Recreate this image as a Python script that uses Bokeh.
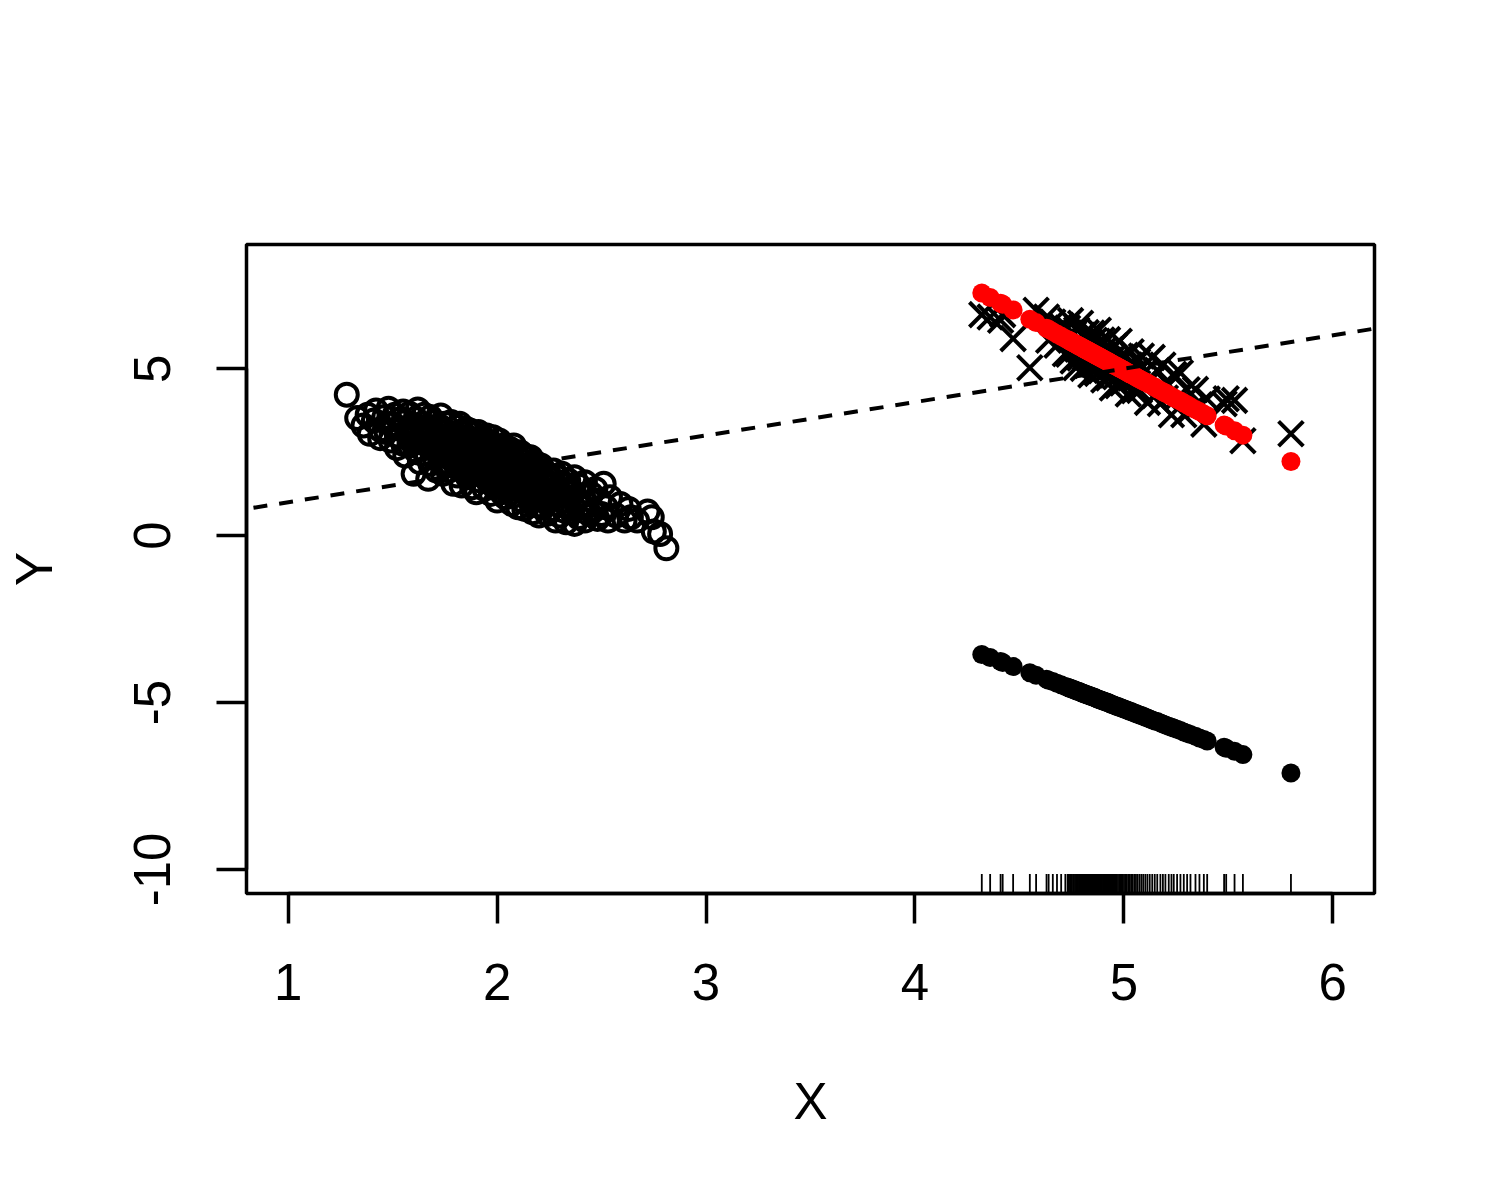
import math
from bokeh.plotting import figure
from bokeh.models import Range1d, FixedTicker, Slope
from bokeh.embed import file_html
from bokeh.resources import INLINE

# ---------------- data ----------------
x_ticks = [1, 2, 3, 4, 5, 6]
y_ticks = [-10, -5, 0, 5]
y_tick_labels = {-10: "-10", -5: "-5", 0: "0", 5: "5"}
x_lim = (0.8, 6.2)
y_lim = (-10.72, 8.72)

# group 1 (open circles)
g1_x = [
    1.28, 1.33,
    1.36, 1.38, 1.39, 1.41, 1.42, 1.44, 1.44,
    1.46, 1.47, 1.48, 1.49, 1.50, 1.51, 1.52, 1.52, 1.53, 1.54, 1.55, 1.55,
    1.56, 1.56, 1.57, 1.58, 1.58, 1.59, 1.60, 1.60, 1.61, 1.61, 1.62, 1.62, 1.63, 1.63, 1.64, 1.64, 1.65, 1.65,
    1.66, 1.66, 1.67, 1.67, 1.68, 1.68, 1.69, 1.69, 1.70, 1.70, 1.71, 1.71, 1.72, 1.72, 1.73, 1.73, 1.73, 1.74, 1.74, 1.74, 1.75, 1.75, 1.75, 1.72,
    1.76, 1.76, 1.77, 1.77, 1.78, 1.78, 1.79, 1.79, 1.80, 1.80, 1.80, 1.81, 1.81, 1.82, 1.82, 1.82, 1.83, 1.83, 1.83, 1.84, 1.84, 1.84, 1.85, 1.85, 1.85, 1.78, 1.80, 1.82,
    1.86, 1.86, 1.86, 1.87, 1.87, 1.87, 1.88, 1.88, 1.88, 1.89, 1.89, 1.89, 1.90, 1.90, 1.90, 1.91, 1.91, 1.91, 1.92, 1.92, 1.92, 1.93, 1.93, 1.93, 1.94, 1.94, 1.94, 1.95, 1.95, 1.95, 1.90, 1.88,
    1.96, 1.96, 1.96, 1.97, 1.97, 1.97, 1.98, 1.98, 1.98, 1.99, 1.99, 1.99, 2.00, 2.00, 2.00, 2.01, 2.01, 2.01, 2.02, 2.02, 2.02, 2.03, 2.03, 2.03, 2.04, 2.04, 2.04, 2.05, 2.05, 2.05, 2.00, 1.98,
    2.06, 2.06, 2.06, 2.07, 2.07, 2.07, 2.08, 2.08, 2.08, 2.09, 2.09, 2.09, 2.10, 2.10, 2.10, 2.11, 2.11, 2.11, 2.12, 2.12, 2.12, 2.13, 2.13, 2.13, 2.14, 2.14, 2.14, 2.15, 2.15, 2.15,
    2.16, 2.16, 2.16, 2.17, 2.17, 2.17, 2.18, 2.18, 2.18, 2.19, 2.19, 2.20, 2.20, 2.20, 2.21, 2.21, 2.21, 2.22, 2.22, 2.23, 2.23, 2.23, 2.24, 2.24, 2.25, 2.25,
    2.26, 2.26, 2.27, 2.27, 2.28, 2.28, 2.29, 2.29, 2.30, 2.30, 2.31, 2.31, 2.32, 2.32, 2.33, 2.33, 2.34, 2.34, 2.35, 2.35,
    2.36, 2.36, 2.37, 2.37, 2.38, 2.39, 2.39, 2.40, 2.41, 2.42, 2.42, 2.43, 2.44, 2.45,
    2.46, 2.47, 2.48, 2.49, 2.50, 2.51, 2.52, 2.53, 2.54,
    2.57, 2.59, 2.61, 2.63, 2.64,
    2.67, 2.72, 2.74, 2.75,
    2.78, 2.81,
    1.58, 1.68, 1.77, 1.84, 1.91, 1.97, 2.03, 2.09, 2.16, 2.22, 2.28,
    1.62, 1.72, 1.81, 1.89, 1.95, 2.01, 2.07, 2.13, 2.19, 2.26, 2.33,
]
g1_y = [
    4.22, 3.52,
    3.30, 3.62, 3.05, 3.45, 3.75, 3.18, 2.92,
    3.55, 3.10, 3.80, 2.85, 3.35, 3.62, 3.00, 2.62, 3.48, 3.20, 3.72, 2.75,
    3.40, 2.40, 3.05, 3.65, 2.70, 3.25, 1.85, 2.95, 3.50, 2.55, 3.15, 3.78, 2.80, 2.20, 3.35, 2.60, 3.00, 3.62,
    2.45, 3.25, 1.70, 2.90, 3.55, 2.15, 2.70, 3.10, 2.35, 3.40, 1.95, 2.85, 3.00, 2.55, 3.60, 2.20, 2.75, 3.20, 1.85, 2.45, 3.35, 2.95, 2.10, 3.30,
    2.60, 3.10, 1.95, 2.80, 3.40, 2.30, 2.65, 1.55, 3.00, 2.15, 2.50, 3.25, 1.80, 2.85, 2.40, 3.35, 2.05, 2.70, 1.50, 3.05, 2.25, 2.55, 1.90, 2.95, 3.20, 2.10, 2.85, 2.60,
    2.40, 1.75, 2.90, 3.15, 2.20, 2.60, 1.45, 2.00, 2.75, 3.05, 2.35, 1.85, 2.55, 1.30, 2.85, 2.10, 3.10, 2.45, 1.65, 2.70, 2.25, 2.95, 1.95, 2.50, 1.40, 2.80, 2.15, 2.60, 1.80, 3.00, 2.05, 2.50,
    2.35, 1.60, 2.80, 2.05, 1.25, 2.55, 2.95, 1.85, 2.20, 1.45, 2.65, 2.00, 1.05, 2.40, 1.75, 2.85, 2.10, 1.55, 2.50, 1.30, 1.95, 2.70, 1.70, 2.25, 1.15, 2.00, 2.55, 1.50, 2.35, 1.85, 2.20, 1.65,
    2.10, 1.40, 2.60, 1.75, 0.95, 2.30, 1.20, 2.00, 2.70, 1.55, 1.90, 2.40, 0.85, 1.65, 2.15, 1.35, 2.50, 1.80, 1.05, 2.25, 1.60, 1.95, 0.80, 2.40, 1.45, 1.75, 2.05, 1.15, 2.30, 1.55,
    1.85, 1.00, 2.35, 1.45, 0.70, 2.05, 1.25, 1.70, 2.20, 0.90, 1.55, 1.95, 1.10, 0.60, 1.40, 2.10, 1.75, 0.85, 1.30, 1.90, 1.05, 1.60, 0.65, 1.50, 1.20, 1.80,
    1.55, 0.80, 1.95, 1.15, 0.45, 1.40, 1.75, 0.95, 1.25, 0.60, 1.85, 1.05, 1.50, 0.75, 1.30, 0.40, 1.65, 0.90, 1.15, 1.40,
    0.70, 1.30, 1.75, 0.35, 1.05, 1.50, 0.55, 0.85, 1.20, 0.45, 1.60, 0.95, 0.65, 1.25,
    0.75, 1.40, 0.50, 1.05, 0.65, 1.55, 0.85, 0.45, 1.15,
    0.60, 0.95, 0.45, 0.80, 0.55,
    0.45, 0.72, 0.55, 0.12,
    0.05, -0.38,
    2.88, 2.62, 2.38, 2.22, 2.05, 1.90, 1.78, 1.62, 1.48, 1.35, 1.22,
    3.12, 2.98, 2.76, 2.57, 2.42, 2.28, 2.12, 1.98, 1.83, 1.68, 1.52,
]

# group 2: x (also the rug), observed (crosses), red fitted, black fitted
g2_x = [
    4.32, 4.36, 4.41, 4.42, 4.47, 4.55, 4.58,
    4.63, 4.64, 4.66, 4.68, 4.70, 4.72,
    4.731, 4.736, 4.742, 4.745, 4.751, 4.757, 4.760, 4.766, 4.771, 4.774,
    4.779, 4.785, 4.789, 4.793, 4.798, 4.803, 4.806, 4.811, 4.816, 4.820,
    4.825, 4.829, 4.834, 4.838, 4.842, 4.847, 4.851, 4.856, 4.860, 4.864,
    4.869, 4.873, 4.878, 4.882, 4.887, 4.891, 4.895, 4.900, 4.904, 4.909,
    4.913, 4.918, 4.922, 4.927, 4.931, 4.936, 4.940, 4.945, 4.950, 4.955,
    4.961, 4.966, 4.972, 4.978, 4.983, 4.989, 4.995, 5.001, 5.008, 5.014,
    5.021, 5.028, 5.035, 5.042, 5.050, 5.058, 5.066, 5.075, 5.084, 5.093,
    5.103, 5.113, 5.124, 5.136, 5.148,
    5.160, 5.175, 5.187, 5.199, 5.215, 5.228, 5.239, 5.255, 5.271, 5.287, 5.303, 5.319, 5.343, 5.362, 5.383, 5.399,
    5.48, 5.49, 5.53, 5.57, 5.80,
]
g2_cross = [
    6.62, 6.55, 6.45, 6.62, 5.90, 5.03, 6.75,
    6.55, 5.85, 6.40, 5.70, 6.30, 5.45,
    6.22, 5.43, 5.93, 6.44, 5.62, 5.23, 6.05, 5.80, 5.03, 6.17,
    5.58, 5.88, 5.32, 6.36, 5.59, 6.00, 5.01, 5.74, 5.33, 6.08,
    5.10, 5.61, 5.82, 5.35, 4.81, 6.07, 5.48, 5.14, 5.85, 5.33,
    5.65, 4.86, 6.15, 5.15, 5.46, 4.94, 5.86, 5.27, 4.66, 5.59,
    5.43, 4.95, 5.87, 4.72, 5.25, 5.57, 5.05, 4.42, 5.34, 5.68,
    4.76, 5.21, 4.49, 5.82, 4.85, 5.35, 4.57, 4.99, 5.40, 4.68,
    4.24, 5.11, 5.51, 4.75, 4.34, 4.91, 5.22, 4.35, 5.38, 4.49,
    4.92, 3.99, 4.63, 5.34, 4.19,
    4.95, 3.95, 5.11, 4.12, 4.52, 3.62, 4.83, 4.13, 4.88, 3.62, 4.37, 3.76, 4.38, 3.92, 3.34, 4.09,
    3.95, 4.10, 4.05, 2.84, 3.05,
]
g2_red = [
    7.27, 7.13, 6.96, 6.93, 6.76, 6.48, 6.38,
    6.21, 6.18, 6.11, 6.04, 5.97, 5.90,
    5.87, 5.85, 5.83, 5.82, 5.80, 5.78, 5.77, 5.75, 5.73, 5.72,
    5.70, 5.68, 5.67, 5.66, 5.64, 5.62, 5.61, 5.59, 5.58, 5.56,
    5.55, 5.53, 5.52, 5.50, 5.49, 5.47, 5.46, 5.44, 5.43, 5.41,
    5.40, 5.38, 5.37, 5.35, 5.34, 5.32, 5.31, 5.29, 5.28, 5.26,
    5.25, 5.23, 5.22, 5.20, 5.19, 5.17, 5.15, 5.14, 5.12, 5.10,
    5.08, 5.07, 5.05, 5.02, 5.01, 4.99, 4.97, 4.95, 4.92, 4.90,
    4.88, 4.85, 4.83, 4.81, 4.78, 4.75, 4.72, 4.69, 4.66, 4.63,
    4.60, 4.57, 4.53, 4.49, 4.45,
    4.40, 4.35, 4.31, 4.27, 4.22, 4.17, 4.13, 4.08, 4.03, 3.97, 3.92, 3.86, 3.78, 3.72, 3.64, 3.59,
    3.31, 3.28, 3.14, 3.01, 2.22,
]
g2_black = [
    -3.56, -3.65, -3.77, -3.80, -3.92, -4.11, -4.18,
    -4.30, -4.33, -4.37, -4.42, -4.47, -4.52,
    -4.54, -4.56, -4.57, -4.58, -4.59, -4.61, -4.61, -4.63, -4.64, -4.65,
    -4.66, -4.67, -4.68, -4.69, -4.71, -4.72, -4.72, -4.74, -4.75, -4.76,
    -4.77, -4.78, -4.79, -4.80, -4.81, -4.82, -4.83, -4.84, -4.85, -4.86,
    -4.88, -4.89, -4.90, -4.91, -4.92, -4.93, -4.94, -4.95, -4.96, -4.97,
    -4.98, -4.99, -5.00, -5.01, -5.02, -5.04, -5.05, -5.06, -5.07, -5.08,
    -5.10, -5.11, -5.12, -5.14, -5.15, -5.16, -5.18, -5.19, -5.21, -5.22,
    -5.24, -5.26, -5.27, -5.29, -5.31, -5.33, -5.35, -5.37, -5.39, -5.41,
    -5.44, -5.46, -5.49, -5.52, -5.55,
    -5.57, -5.61, -5.64, -5.67, -5.71, -5.74, -5.76, -5.80, -5.84, -5.88, -5.92, -5.96, -6.01, -6.06, -6.11, -6.15,
    -6.34, -6.37, -6.46, -6.56, -7.11,
]

# reference line (dashed)
ref_intercept = 0.0
ref_slope = 1.0

# ---------------- figure ----------------
FONT = "Liberation Sans"
LW = 3.5      # frame, axes, ticks
MLW = 4.0     # marker and dashed line strokes

p = figure(
    frame_width=1128, frame_height=649,
    min_border_left=246, min_border_right=118,
    min_border_top=244, min_border_bottom=299,
    x_range=Range1d(*x_lim), y_range=Range1d(*y_lim),
    output_backend="svg", toolbar_location=None,
    background_fill_color="white", border_fill_color="white",
)
p.xgrid.visible = False
p.ygrid.visible = False
p.outline_line_color = "black"
p.outline_line_width = LW

for ax, ticks in ((p.xaxis[0], x_ticks), (p.yaxis[0], y_ticks)):
    ax.ticker = FixedTicker(ticks=ticks)
    ax.bounds = (min(ticks), max(ticks))
    ax.axis_line_color = "black"
    ax.axis_line_width = LW
    ax.major_tick_out = 30
    ax.major_tick_in = 0
    ax.major_tick_line_width = LW
    ax.minor_tick_line_color = None
    ax.major_label_text_font = FONT
    ax.major_label_text_font_size = "51px"
    ax.major_label_text_color = "black"
    ax.axis_label_text_font = FONT
    ax.axis_label_text_font_size = "51px"
    ax.axis_label_text_font_style = "normal"
    ax.axis_label_text_color = "black"

p.yaxis.major_label_overrides = y_tick_labels
p.xaxis.axis_label = "X"
p.yaxis.axis_label = "Y"
p.xaxis.major_label_standoff = 40
p.xaxis.axis_label_standoff = 70
p.yaxis.major_label_orientation = "vertical"
p.yaxis.major_label_standoff = 46
p.yaxis.axis_label_standoff = 69

# group 1 open circles
p.scatter(g1_x, g1_y, marker="circle", size=22, fill_color=None,
          line_color="black", line_width=MLW)
# group 2 crosses
p.scatter(g2_x, g2_cross, marker="x", size=35, line_color="black", line_width=MLW)
# fitted points
p.scatter(g2_x, g2_red, marker="circle", size=19, fill_color="#FF0000", line_color=None)
p.scatter(g2_x, g2_black, marker="circle", size=19, fill_color="black", line_color=None)

# dashed reference line
p.add_layout(Slope(gradient=ref_slope, y_intercept=ref_intercept,
                   line_color="black", line_width=MLW, line_dash="14 12"))

# rug on x axis
p.ray(x=g2_x, y=y_lim[0], length=19.5, length_units="screen",
      angle=math.pi / 2, line_color="black", line_width=1.8)

open("out.html", "w").write(file_html(p, INLINE))
